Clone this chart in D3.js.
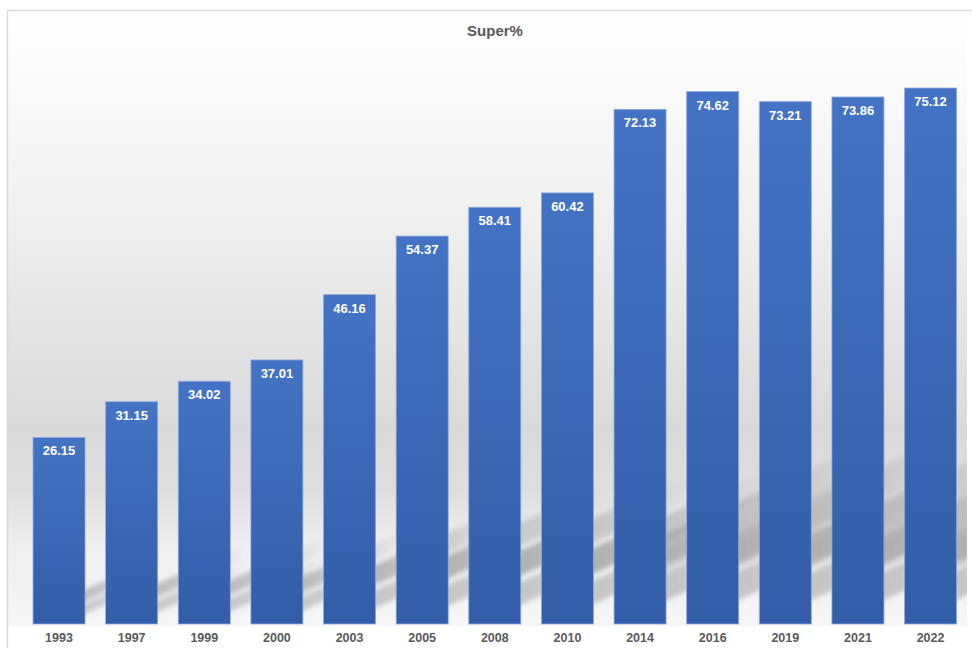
<!DOCTYPE html>
<html>
<meta charset="utf-8"/>
<head>
  <title>Super%</title>
  <script src="https://cdnjs.cloudflare.com/ajax/libs/d3/7.8.5/d3.min.js"></script>
  <style>
    body { margin: 0; background: #fff; }
    text { font-family: "Liberation Sans", Arial, sans-serif; font-weight: bold; }
  </style>
</head>
<body>
<script>
  // data
  var years = ['1993','1997','1999','2000','2003','2005','2008','2010','2014','2016','2019','2021','2022'];
  var values = [26.15, 31.15, 34.02, 37.01, 46.16, 54.37, 58.41, 60.42, 72.13, 74.62, 73.21, 73.86, 75.12];
  var title = 'Super%';

  var W = 972, H = 648;
  var base = 624;

  var svg = d3.select('body').append('svg')
      .attr('width', W)
      .attr('height', H);

  var defs = svg.append('defs');

  // wall / floor background
  var bg = defs.append('linearGradient').attr('id', 'bg')
      .attr('x1', 0).attr('y1', 0).attr('x2', 0).attr('y2', 1);
  [[0, '#ffffff'], [0.3, '#f2f2f2'], [0.68, '#d9d9d9'], [0.78, '#dedede'], [0.87, '#efefef'], [1, '#f6f6f6']]
    .forEach(function(s){ bg.append('stop').attr('offset', s[0]).attr('stop-color', s[1]); });

  // bar gradient
  var bar = defs.append('linearGradient').attr('id', 'bar')
      .attr('x1', 0).attr('y1', 0).attr('x2', 0).attr('y2', 1);
  bar.append('stop').attr('offset', 0).attr('stop-color', '#4473c5');
  bar.append('stop').attr('offset', 1).attr('stop-color', '#335da8');

  // shadow fade to the right
  var sh = defs.append('linearGradient').attr('id', 'sh')
      .attr('x1', 0).attr('y1', 0).attr('x2', 1).attr('y2', 0);
  sh.append('stop').attr('offset', 0).attr('stop-color', '#9e9e9e').attr('stop-opacity', 0.7);
  sh.append('stop').attr('offset', 0.6).attr('stop-color', '#a8a8a8').attr('stop-opacity', 0.45);
  sh.append('stop').attr('offset', 1).attr('stop-color', '#b0b0b0').attr('stop-opacity', 0);

  defs.append('filter').attr('id', 'blur')
      .attr('x', '-20%').attr('y', '-20%').attr('width', '140%').attr('height', '140%')
    .append('feGaussianBlur').attr('stdDeviation', 2.4);

  defs.append('clipPath').attr('id', 'plotclip')
    .append('rect').attr('x', 8).attr('y', 11).attr('width', 959).attr('height', base - 11);

  svg.append('rect')
      .attr('x', 8).attr('y', 11)
      .attr('width', 959).attr('height', 615)
      .attr('fill', 'url(#bg)');

  svg.append('rect')
      .attr('x', 7.5).attr('y', 10.5)
      .attr('width', 980).attr('height', 660)
      .attr('fill', 'none')
      .attr('stroke', '#d9d9d9')
      .attr('stroke-width', 1.5);

  var x = d3.scaleBand()
      .domain(years)
      .range([12.4, 977.2])
      .padding(0.284);

  var y = d3.scaleLinear()
      .domain([0, 80])
      .range([base, 53.2]);

  var data = years.map(function(d, i){ return {year: d, value: values[i]}; });

  // floor shadows
  var shadows = svg.append('g').attr('clip-path', 'url(#plotclip)');
  var slope = 0.45;
  function strip(d, top, bot) {
    var h = base - y(d.value);
    var x1 = x(d.year) + x.bandwidth() - 6;
    var len = h * 0.42;
    var pts = [
      [x1, base - h * top],
      [x1 + len, base - h * top - len * slope],
      [x1 + len, base - h * bot - len * slope],
      [x1, base - h * bot]
    ];
    return 'M' + pts.map(function(p){ return p.join(','); }).join('L') + 'Z';
  }
  shadows.selectAll('path.sa')
    .data(data).enter().append('path')
      .attr('class', 'sa')
      .attr('d', function(d){ return strip(d, 0.17, 0.11); })
      .attr('fill', 'url(#sh)')
      .attr('filter', 'url(#blur)');
  shadows.selectAll('path.sb')
    .data(data).enter().append('path')
      .attr('class', 'sb')
      .attr('d', function(d){ return strip(d, 0.095, 0.04); })
      .attr('fill', 'url(#sh)')
      .attr('opacity', 0.8)
      .attr('filter', 'url(#blur)');

  // bars
  svg.selectAll('rect.bar')
    .data(data).enter().append('rect')
      .attr('class', 'bar')
      .attr('x', function(d){ return x(d.year); })
      .attr('y', function(d){ return y(d.value); })
      .attr('width', x.bandwidth())
      .attr('height', function(d){ return base - y(d.value); })
      .attr('fill', 'url(#bar)')
      .attr('stroke', '#8eaadf')
      .attr('stroke-width', 0.8);

  // value labels
  svg.selectAll('text.val')
    .data(data).enter().append('text')
      .attr('class', 'val')
      .attr('x', function(d){ return x(d.year) + x.bandwidth() / 2; })
      .attr('y', function(d){ return y(d.value) + 18; })
      .attr('text-anchor', 'middle')
      .attr('fill', '#ffffff')
      .style('font-size', '13px')
      .text(function(d){ return d.value.toFixed(2); });

  // x axis labels
  var xAxis = d3.axisBottom(x).tickSize(0).tickPadding(9);
  var gx = svg.append('g')
      .attr('transform', 'translate(0,' + base + ')')
      .call(xAxis);
  gx.select('.domain').remove();
  gx.selectAll('text')
      .attr('fill', '#595959')
      .style('font-size', '12.5px')
      .style('font-family', '"Liberation Sans", Arial, sans-serif')
      .style('font-weight', 'bold');

  svg.append('text')
      .attr('x', 495)
      .attr('y', 35.5)
      .attr('text-anchor', 'middle')
      .attr('fill', '#595959')
      .style('font-size', '15px')
      .text(title);
</script>
</body>
</html>
